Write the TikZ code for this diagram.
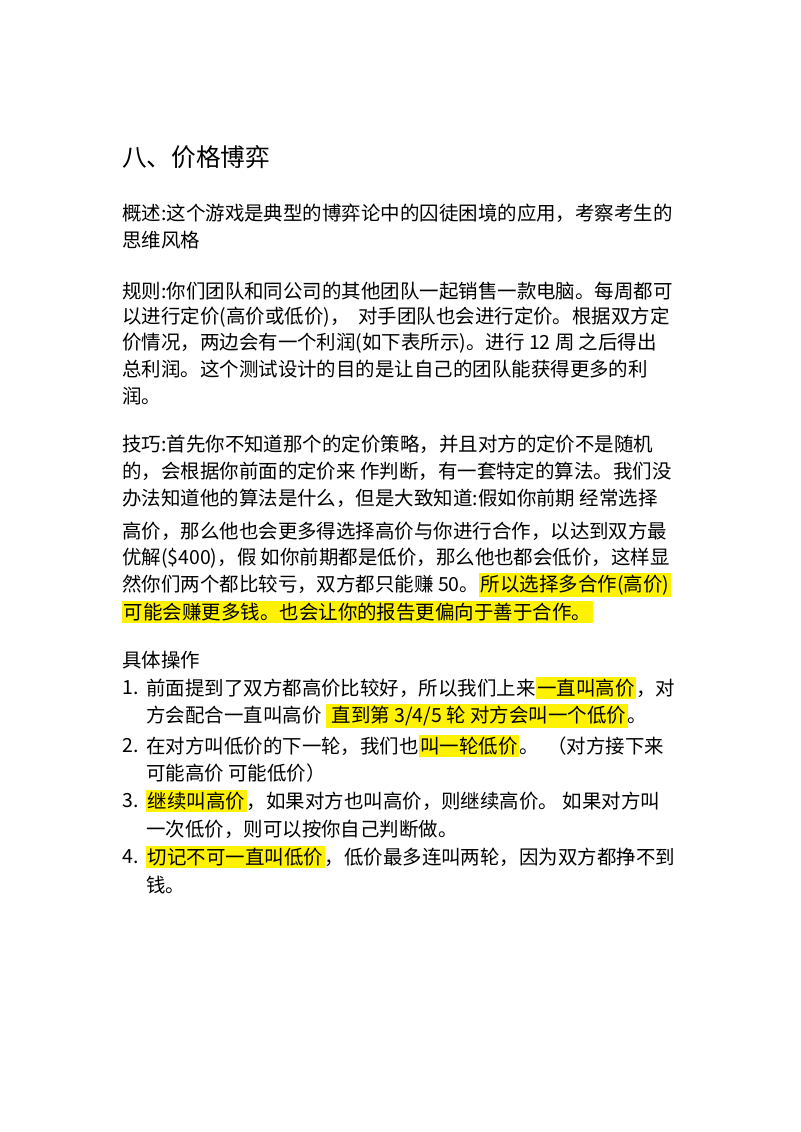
\documentclass[tikz,border=0pt]{standalone}
\usepackage{fontspec}
\setmainfont{Noto Sans CJK SC}
\newfontfamily\latf{Liberation Sans}
\newcommand\hlt[1]{{\setlength\fboxsep{1.2pt}\colorbox{yellow}{#1}}}
\tikzset{ln/.style={anchor=west,inner sep=0pt,font=\fontsize{14.6}{18}\selectfont},
 tt/.style={anchor=west,inner sep=0pt,font=\fontsize{18.5}{22}\selectfont}}
\begin{document}
\begin{tikzpicture}[x=0.75pt,y=-0.75pt]
\useasboundingbox[fill=white] (0,0) rectangle (800,1132);
\node[tt] (t) at (122,157) {八、价格博弈};
\node[ln] (a1) at (122,213) {概述:这个游戏是典型的博弈论中的囚徒困境的应用，考察考生的};
\node[ln] (a2) at (122,240) {思维风格};
\node[ln] (b1) at (122,291) {规则:你们团队和同公司的其他团队一起销售一款电脑。每周都可};
\node[ln] (b2) at (122,317) {以进行定价(高价或低价)，\ \ 对手团队也会进行定价。根据双方定};
\node[ln] (b3) at (122,343) {价情况，两边会有一个利润(如下表所示)。进行 12 周 之后得出};
\node[ln] (b4) at (122,369) {总利润。这个测试设计的目的是让自己的团队能获得更多的利};
\node[ln] (b5) at (122,396) {润。};
\node[ln] (c1) at (122,444) {技巧:首先你不知道那个的定价策略，并且对方的定价不是随机};
\node[ln] (c2) at (122,471) {的，会根据你前面的定价来 作判断，有一套特定的算法。我们没};
\node[ln] (c3) at (122,498) {办法知道他的算法是什么，但是大致知道:假如你前期 经常选择};
\node[ln] (c4) at (122,531) {高价，那么他也会更多得选择高价与你进行合作，以达到双方最};
\node[ln] (c5) at (122,558) {优解(\$400)，假 如你前期都是低价，那么他也都会低价，这样显};
\node[ln] (c6) at (122,585) {然你们两个都比较亏，双方都只能赚 50。\hlt{所以选择多合作(高价)}};
\node[ln] (c7) at (122,612) {\hlt{可能会赚更多钱。也会让你的报告更偏向于善于合作。}};
\node[ln] (d0) at (122,660) {具体操作};
\node[ln] (n1) at (122,688) {1.};
\node[ln] (d1) at (146,688) {前面提到了双方都高价比较好，所以我们上来\hlt{一直叫高价}，对};
\node[ln] (d2) at (146,716) {方会配合一直叫高价 \hlt{ 直到第 3/4/5 轮 对方会叫一个低价}。};
\node[ln] (n2) at (122,746) {2.};
\node[ln] (d3) at (146,746) {在对方叫低价的下一轮，我们也\hlt{叫一轮低价}。\ \ （对方接下来};
\node[ln] (d4) at (146,773) {可能高价 可能低价）};
\node[ln] (n3) at (122,801) {3.};
\node[ln] (d5) at (146,801) {\hlt{继续叫高价}，如果对方也叫高价，则继续高价。 如果对方叫};
\node[ln] (d6) at (146,829) {一次低价，则可以按你自己判断做。};
\node[ln] (n4) at (122,857) {4.};
\node[ln] (d7) at (146,857) {\hlt{切记不可一直叫低价}，低价最多连叫两轮，因为双方都挣不到};
\node[ln] (d8) at (146,885) {钱。};
\end{tikzpicture}
\end{document}
